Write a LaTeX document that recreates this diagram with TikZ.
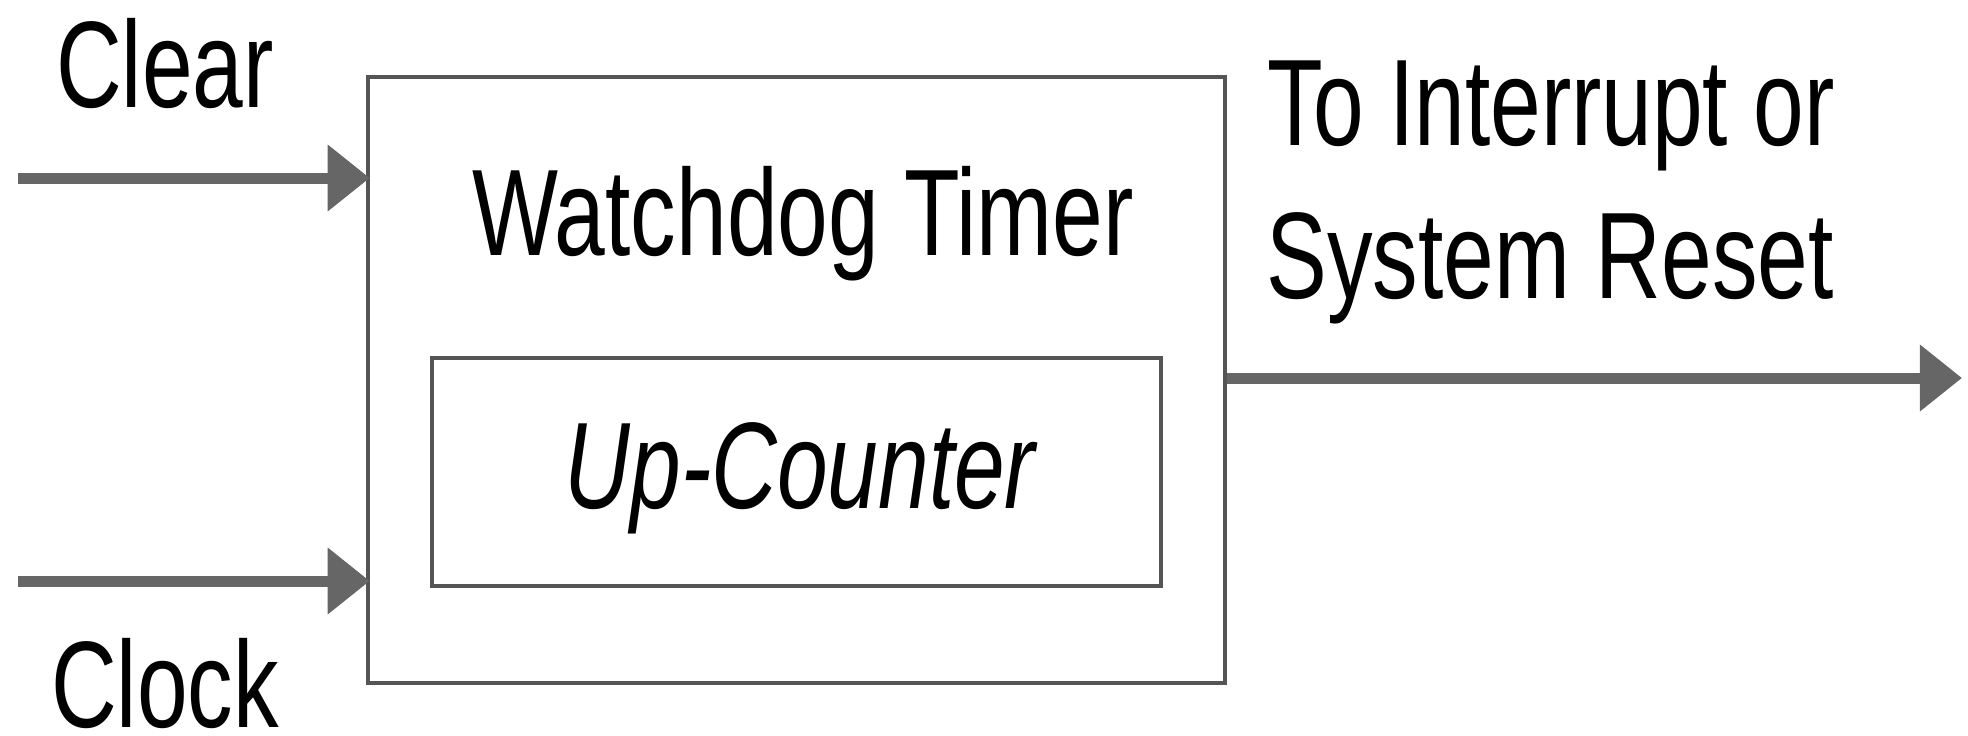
\documentclass[tikz,border=0pt]{standalone}
\usepackage{fontspec}
\usetikzlibrary{arrows.meta}
\newfontfamily\labfont[FakeStretch=0.74]{Liberation Sans}
\definecolor{arrgray}{HTML}{666666}
\definecolor{boxgray}{HTML}{555555}
\tikzset{
  blockbox/.style={draw=boxgray, line width=0.04cm, inner sep=0pt, fill=white},
  sigarrow/.style={draw=arrgray, line width=0.11cm,
    -{Triangle[length=0.42cm, width=0.64cm]}},
  lbl/.style={inner sep=0pt, font=\labfont\fontsize{35pt}{43pt}\selectfont, text=black},
}
\begin{document}
\begin{tikzpicture}[x=0.01cm, y=-0.01cm]
\useasboundingbox (0,0) rectangle (1968,736);
% blocks
\node[blockbox, minimum width=8.57cm, minimum height=6.06cm] (wdt) at (796.5,380) {};
\node[blockbox, minimum width=7.29cm, minimum height=2.28cm] (uc) at (796.5,472) {};
% texts
\node[lbl, anchor=base] (wdtlabel) at (803,255) {Watchdog Timer};
\node[lbl, anchor=base] (uclabel) at (800,508) {\itshape Up-Counter};
\node[lbl, anchor=base] (clearlabel) at (165,107) {Clear};
\node[lbl, anchor=base] (clocklabel) at (165,727) {Clock};
\node[lbl, anchor=base west] (outlabel1) at (1267,145) {To Interrupt or};
\node[lbl, anchor=base west] (outlabel2) at (1266,298) {System Reset};
% signal ends
\coordinate (clearin) at (18,178);
\coordinate (clockin) at (18,581);
\coordinate (outend) at (1962,378);
% connectors
\draw[sigarrow] (clearin) -- ([xshift=0.04cm]clearin -| wdt.west);
\draw[sigarrow] (clockin) -- ([xshift=0.04cm]clockin -| wdt.west);
\draw[sigarrow] (outend -| wdt.east) -- (outend);
\end{tikzpicture}
\end{document}
